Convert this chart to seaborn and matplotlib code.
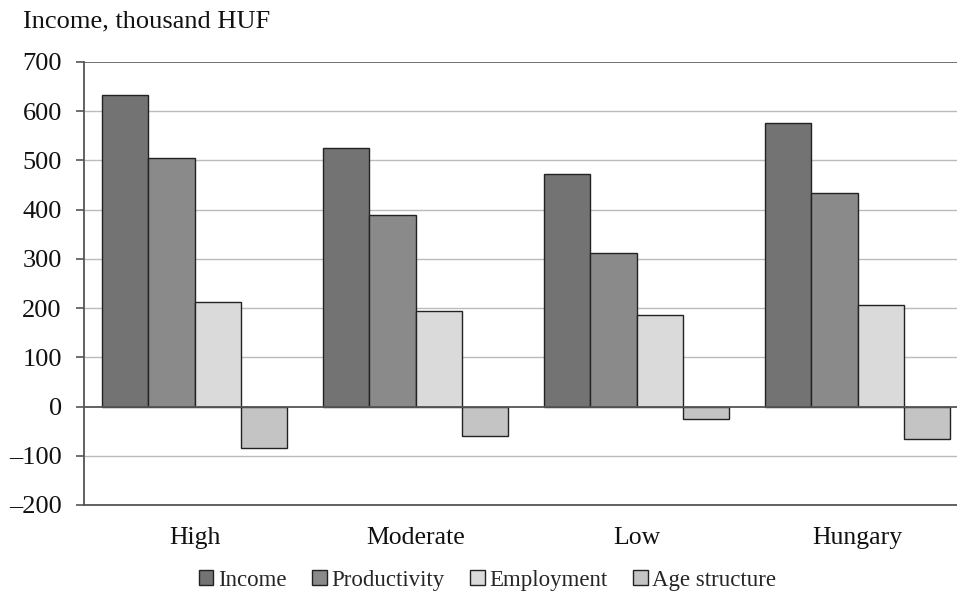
import pandas as pd
import matplotlib.pyplot as plt
import seaborn as sns
from matplotlib.ticker import FuncFormatter

# data
regions = ['High', 'Moderate', 'Low', 'Hungary']
components = ['Income', 'Productivity', 'Employment', 'Age structure']
income = [632, 526, 472, 576]
productivity = [505, 390, 311, 434]
employment = [213, 195, 186, 206]
age_structure = [-84, -59, -26, -65]
yticks = [-200, -100, 0, 100, 200, 300, 400, 500, 600, 700]

colors = ['#737373', '#8a8a8a', '#dadada', '#c4c4c4']

rows = []
for name, vals in zip(components, [income, productivity, employment, age_structure]):
    for reg, v in zip(regions, vals):
        rows.append({'Region': reg, 'Component': name, 'Value': v})
df = pd.DataFrame(rows)

sns.set_theme(style='white')
plt.rcParams['font.family'] = ['Liberation Serif', 'DejaVu Serif']

fig = plt.figure(figsize=(9.57, 5.99), dpi=100)
ax = fig.add_axes([0.0878, 0.157, 0.9122, 0.7395])

sns.barplot(data=df, x='Region', y='Value', hue='Component', hue_order=components,
            palette=colors, width=0.835, edgecolor='#222222', linewidth=1.0,
            saturation=1, ax=ax, legend=True)

ax.set_ylim(-200, 700)
ax.set_xlim(-0.5, 3.45)
ax.set_yticks(yticks)
ax.yaxis.set_major_formatter(FuncFormatter(lambda v, p: f'{int(v)}'.replace('-', '\u2013')))
for t in yticks:
    if t == 0:
        ax.axhline(0, color='#555555', lw=1.3, zorder=3)
    elif t == 700:
        ax.axhline(t, color='#666666', lw=1.3, zorder=0)
    else:
        ax.axhline(t, color='#bbbbbb', lw=1.0, zorder=0)

for s in ['top', 'right']:
    ax.spines[s].set_visible(False)
ax.spines['left'].set_color('#555555')
ax.spines['left'].set_linewidth(1.3)
ax.spines['bottom'].set_color('#555555')
ax.spines['bottom'].set_linewidth(1.3)
ax.tick_params(axis='y', left=True, length=6, width=1.2, color='#555555',
               labelsize=19, pad=10, labelcolor='#111111')
ax.tick_params(axis='x', bottom=False, labelsize=18.5, pad=10, labelcolor='#111111')
ax.set_xlabel('')
ax.set_ylabel('')

fig.text(0.024, 0.965, 'Income, thousand HUF', fontsize=19, color='#111111',
         va='center', ha='left')

ax.legend(loc='center', bbox_to_anchor=(0.462, -0.17), ncol=4, frameon=False,
          fontsize=16.5, handlelength=0.65, handleheight=0.65, handletextpad=0.2,
          columnspacing=1.1, borderaxespad=0)

fig.savefig('out.png', dpi=100)
